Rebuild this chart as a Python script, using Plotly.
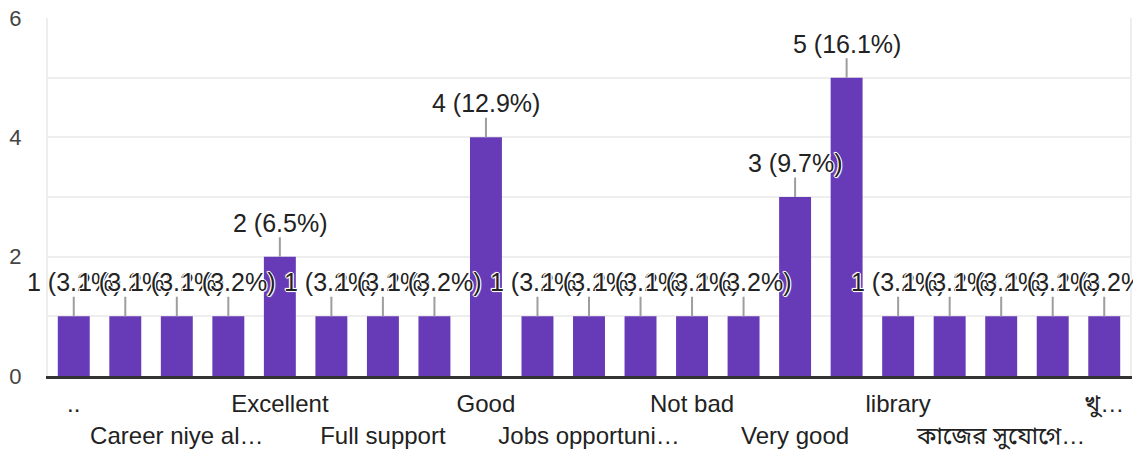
import plotly.graph_objects as go

# ---- data ----
categories = [
    "..", "Best", "Career niye al…", "Dont know", "Excellent", "Fine",
    "Full support", "Fully satisfied", "Good", "Helpful", "Jobs opportuni…",
    "Nice", "Not bad", "Satisfied", "Very good", "good", "library", "nice",
    "কাজের সুযোগে…", "কোনো সমস্যা নেই", "খু…",
]
counts = [1, 1, 1, 1, 2, 1, 1, 1, 4, 1, 1, 1, 1, 1, 3, 5, 1, 1, 1, 1, 1]
y_ticks = [0, 2, 4, 6]

total = sum(counts)
labels = [f"{c} ({c / total * 100:.1f}%)" for c in counts]

row1_ticks = categories[0::4]
row2_ticks = categories[2::4]

FONT = 'Arial, "Liberation Sans", "Noto Sans Bengali", sans-serif'
HALO = ("white 1px 0 0, white -1px 0 0, white 0 1px 0, white 0 -1px 0, "
        "white 1px 1px 1px, white -1px -1px 1px")

x_range = [-0.5, len(categories) - 0.5]

fig = go.Figure()
fig.add_trace(go.Bar(
    x=categories, y=counts, marker=dict(color="#673ab7", line=dict(width=0)),
    hoverinfo="skip", showlegend=False,
))
# invisible helper trace for the second row of category labels
fig.add_trace(go.Scatter(
    x=categories, y=counts, xaxis="x2", mode="markers",
    marker=dict(opacity=0), hoverinfo="skip", showlegend=False,
))

for cat, val, lab in zip(categories, counts, labels):
    fig.add_annotation(
        x=cat, y=val, xref="x", yref="y", text=lab,
        showarrow=True, ax=0, ay=-34, arrowhead=0, arrowwidth=2,
        arrowcolor="#9e9e9e", standoff=0, borderpad=0,
        font=dict(family=FONT, size=25, color="#222222", shadow=HALO),
    )

fig.update_layout(
    width=1133, height=447,
    margin=dict(l=40, r=11, t=10, b=79),
    paper_bgcolor="white", plot_bgcolor="white",
    bargap=0.38,
    font=dict(family=FONT, size=24, color="#222222"),
    xaxis=dict(
        type="category", categoryorder="array", categoryarray=categories,
        range=x_range,
        tickmode="array", tickvals=row1_ticks, ticktext=row1_ticks,
        showline=True, linecolor="#333333", linewidth=3,
        showgrid=False, ticks="", ticklabelstandoff=4, automargin=False,
        ticklabeloverflow="allow",
        tickfont=dict(size=24, color="#222222"), fixedrange=True,
    ),
    xaxis2=dict(
        type="category", categoryorder="array", categoryarray=categories,
        overlaying="x", matches="x", side="bottom", anchor="y",
        tickmode="array", tickvals=row2_ticks, ticktext=row2_ticks,
        showline=False, showgrid=False, ticks="", ticklabelstandoff=43,
        automargin=False, ticklabeloverflow="allow",
        tickfont=dict(size=24, color="#222222"),
    ),
    yaxis=dict(
        range=[0, 6], tickmode="array", tickvals=y_ticks,
        ticktext=[str(v) for v in y_ticks],
        showgrid=True, gridcolor="#eeeeee", gridwidth=2,
        minor=dict(dtick=1, showgrid=True, gridcolor="#eeeeee", gridwidth=2),
        zeroline=False, showline=True, mirror=True, linecolor="#eeeeee", linewidth=2,
        ticks="", ticklabelstandoff=20, automargin=False,
        ticklabeloverflow="allow",
        tickfont=dict(size=22, color="#444444"),
    ),
)

fig.write_html("out.html")
